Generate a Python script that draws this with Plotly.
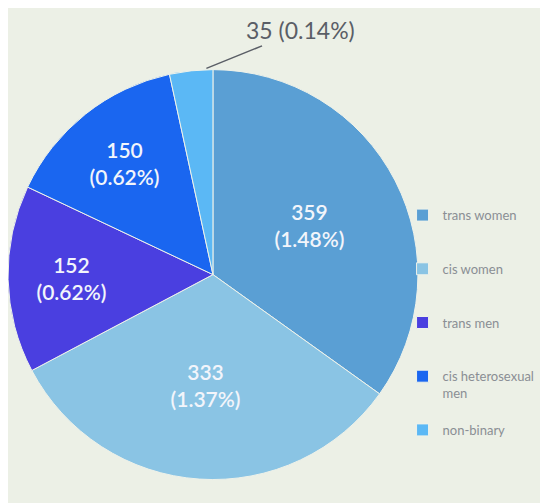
import plotly.graph_objects as go

labels = ["trans women", "cis women", "trans men", "cis heterosexual<br>men", "non-binary"]
counts = [359, 333, 152, 150, 35]
shares = ["1.48%", "1.37%", "0.62%", "0.62%", "0.14%"]
colors = ["#5A9FD4", "#8AC4E4", "#4A3FE0", "#1A66F0", "#5BB8F5"]

# blank lines after each legend entry, to spread the legend out like the slide
legend_pad = [2, 2, 2, 1, 0]
legend_names = [lab + "<br>&nbsp;" * n for lab, n in zip(labels, legend_pad)]

texts = [f"{c}<br>({s})" for c, s in zip(counts, shares)]
texts[-1] = ""  # small slice is labelled outside, see annotation

fig = go.Figure(go.Pie(
    labels=legend_names, values=counts, text=texts, textinfo="text",
    textposition="inside", insidetextorientation="horizontal",
    marker=dict(colors=colors, line=dict(color="#EEF2EA", width=1)),
    sort=False, direction="clockwise", rotation=0,
    domain=dict(x=[0.0, 0.748], y=[0.06, 0.88]),
    insidetextfont=dict(color="#F2F5FB", size=21, weight=600),
))

fig.add_annotation(
    x=0.362, y=0.88, xref="paper", yref="paper",
    text=f"{counts[-1]} ({shares[-1]})", showarrow=True, arrowhead=0,
    arrowwidth=1.5, arrowcolor="#5A5E66", ax=94, ay=-38,
    font=dict(color="#5A5E66", size=23),
)

fig.update_layout(
    width=548, height=503,
    font_family="Lato, Open Sans, sans-serif",
    paper_bgcolor="#ECF0E6", plot_bgcolor="#ECF0E6",
    margin=dict(l=0, r=0, t=0, b=0),
    legend=dict(x=0.72, y=0.618, xanchor="left", yanchor="top", valign="top",
                font=dict(size=13, color="#8A8E94"), bgcolor="rgba(0,0,0,0)",
                itemwidth=30),
)

fig.write_html("out.html")
